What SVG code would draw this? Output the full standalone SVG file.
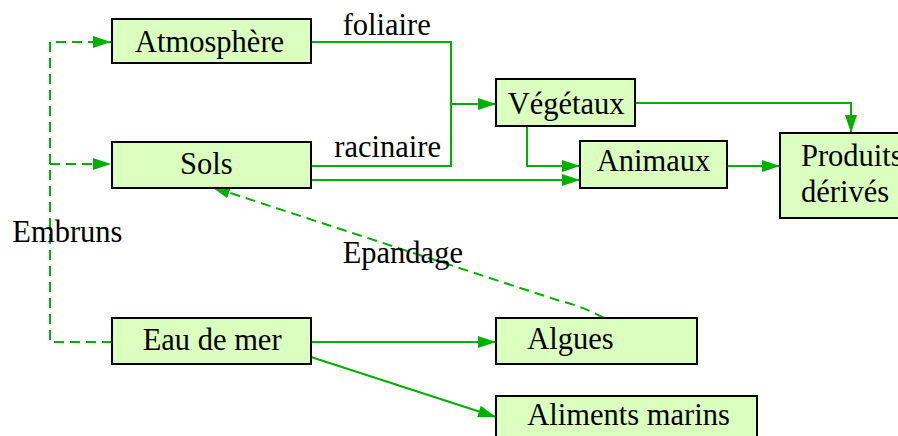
<svg xmlns="http://www.w3.org/2000/svg" width="898" height="436" viewBox="0 0 898 436">
<style>
.box{fill:#daffbe;stroke:#000;stroke-width:2}
text{font-family:'Liberation Serif','Times New Roman',serif;font-size:30.5px;fill:#000}
.ln{fill:none;stroke:#00b000;stroke-width:2}
.dash{stroke-dasharray:10,6}
</style>
<defs>
<marker id="ah" markerUnits="userSpaceOnUse" markerWidth="18" markerHeight="12" refX="18" refY="6" orient="auto" viewBox="0 0 18 12">
<path d="M0,0 L18,6 L0,12 z" fill="#00b000"/>
</marker>
</defs>
<rect width="898" height="436" fill="#fff"/>
<g id="connectors">
<path class="ln" d="M311,42 H452 M451,42 V166 M311,166 H452"/>
<path class="ln" d="M451,104 H496" marker-end="url(#ah)"/>
<path class="ln" d="M635,103 H851 V133" marker-end="url(#ah)"/>
<path class="ln" d="M527,126 V166 H580" marker-end="url(#ah)"/>
<path class="ln" d="M311,180 H580" marker-end="url(#ah)"/>
<path class="ln" d="M727,166 H780" marker-end="url(#ah)"/>
<path class="ln" d="M311,342 H496" marker-end="url(#ah)"/>
<path class="ln" d="M311,357 L496,417" marker-end="url(#ah)"/>
<path class="ln dash" d="M112,342 H50 V42 H111" marker-end="url(#ah)"/>
<path class="ln dash" d="M50,164 H111" marker-end="url(#ah)"/>
<path class="ln dash" d="M604,318 Q582,306 560,301 L212,187" marker-end="url(#ah)"/>
<text x="342.7" y="35">foliaire</text>
<text x="334.3" y="157">racinaire</text>
<text x="342.7" y="263">Epandage</text>
<text x="12.3" y="242">Embruns</text>
</g>
<g id="atmosphere"><rect class="box" x="112" y="19" width="199" height="44"/><text x="135" y="52">Atmosphère</text></g>
<g id="sols"><rect class="box" x="112" y="142" width="199" height="46"/><text x="180" y="173.5">Sols</text></g>
<g id="vegetaux"><rect class="box" x="496" y="79" width="139" height="47"/><text x="507.7" y="113.5">Végétaux</text></g>
<g id="animaux"><rect class="box" x="580" y="141" width="147" height="47"/><text x="596.7" y="171">Animaux</text></g>
<g id="produits"><rect class="box" x="780" y="133" width="130" height="85"/><text x="801" y="165.5">Produits</text><text x="801" y="201.7">dérivés</text></g>
<g id="eau"><rect class="box" x="112" y="318" width="199" height="46"/><text x="142.7" y="350">Eau de mer</text></g>
<g id="algues"><rect class="box" x="496" y="318" width="201" height="46"/><text x="527.3" y="348.5">Algues</text></g>
<g id="aliments"><rect class="box" x="496" y="396" width="261" height="60"/><text x="527.3" y="425">Aliments marins</text></g>
</svg>
